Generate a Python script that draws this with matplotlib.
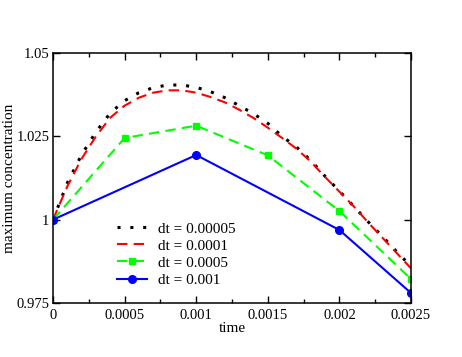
import matplotlib
matplotlib.use("Agg")
import matplotlib.pyplot as plt
from matplotlib.ticker import MultipleLocator

# datos
t_fino = [i * 0.0001 for i in range(26)]
c_00005 = [1.0, 1.0110, 1.0195, 1.0263, 1.0320, 1.0357, 1.0381, 1.0396, 1.0404, 1.0404,
           1.0397, 1.0384, 1.0366, 1.0342, 1.0318, 1.0289, 1.0250, 1.0218, 1.0178, 1.0130,
           1.0086, 1.0040, 0.9994, 0.9950, 0.9904, 0.9860]
c_0001 = [1.0, 1.0100, 1.0183, 1.0250, 1.0306, 1.0342, 1.0366, 1.0381, 1.0388, 1.0388,
          1.0381, 1.0368, 1.0352, 1.0330, 1.0305, 1.0276, 1.0245, 1.0213, 1.0174, 1.0128,
          1.0084, 1.0040, 0.9992, 0.9946, 0.9900, 0.9854]
t_0005 = [0.0, 0.0005, 0.001, 0.0015, 0.002, 0.0025]
c_0005 = [1.0, 1.0245, 1.0282, 1.0193, 1.0026, 0.9822]
t_001 = [0.0, 0.001, 0.002, 0.0025]
c_001 = [1.0, 1.0194, 0.9969, 0.9780]

xticks = [0, 0.0005, 0.001, 0.0015, 0.002, 0.0025]
xtick_labels = ["0", "0.0005", "0.001", "0.0015", "0.002", "0.0025"]
yticks = [0.975, 1.0, 1.025, 1.05]
ytick_labels = ["0.975", "1", "1.025", "1.05"]

plt.rcParams['font.family'] = ['Liberation Serif', 'DejaVu Serif']

fig = plt.figure(figsize=(4.62, 3.57), dpi=100)
ax = fig.add_axes([53 / 462, 1 - 303 / 357, 358 / 462, 250 / 357])

ax.plot(t_fino, c_00005, color="black", linestyle=(0, (1, 3.2)), linewidth=2.2,
        label="dt = 0.00005")
ax.plot(t_fino, c_0001, color="#ff0000", linestyle=(0, (5, 3)), linewidth=1.5,
        label="dt = 0.0001")
ax.plot(t_0005, c_0005, color="#00ff00", linestyle=(0, (5, 3)), linewidth=1.5,
        marker="s", markersize=5, label="dt = 0.0005")
ax.plot(t_001, c_001, color="#0000ff", linestyle="-", linewidth=1.5,
        marker="o", markersize=5.5, label="dt = 0.001")

ax.set_xlim(0, 0.0025)
ax.set_ylim(0.975, 1.05)
ax.set_xticks(xticks)
ax.set_xticklabels(xtick_labels)
ax.set_yticks(yticks)
ax.set_yticklabels(ytick_labels)
ax.xaxis.set_minor_locator(MultipleLocator(0.00025))
ax.tick_params(which="both", direction="in", top=True, right=True, labelsize=10.5, width=1)
ax.tick_params(which="major", length=5, pad=4)
ax.tick_params(axis="y", which="major", pad=2.5)
ax.tick_params(which="minor", length=3)
for s in ax.spines.values():
    s.set_linewidth(1.1)

ax.set_xlabel("time", fontsize=11, labelpad=0)
ax.set_ylabel("maximum concentration", fontsize=11)
ax.yaxis.set_label_coords(-0.104, 0.5)

ax.legend(loc="lower left", bbox_to_anchor=(0.161, 0.04), frameon=False, fontsize=11,
          handlelength=2.0, handletextpad=0.7, labelspacing=0.22, borderaxespad=0)

fig.savefig("out.png", dpi=100)
